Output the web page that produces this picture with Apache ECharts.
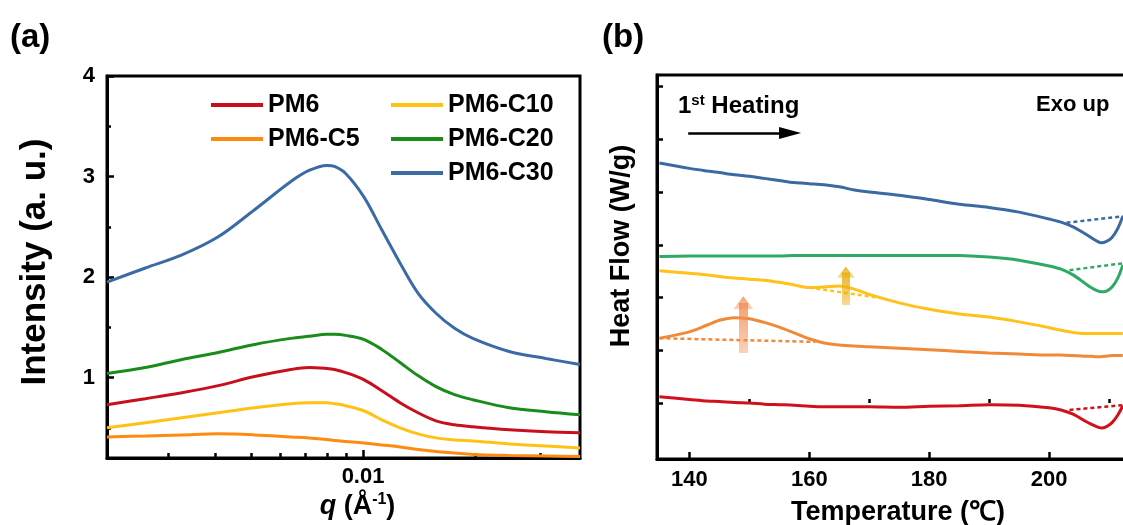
<!DOCTYPE html>
<html><head><meta charset="utf-8">
<script src="https://cdn.jsdelivr.net/npm/echarts@6/dist/echarts.min.js"></script>
<style>html,body{margin:0;padding:0;background:#fff}#c{width:1123px;height:525px}</style>
</head><body><div id="c"></div>
<script>
// ---------- Panel (a): SAXS intensity vs q ----------
const qValues = [0.00205, 0.0026, 0.00326, 0.00408, 0.00511, 0.0064, 0.00716, 0.008, 0.00838, 0.00898, 0.01004, 0.01123, 0.01257, 0.01405, 0.01571, 0.01762, 0.01972, 0.0247, 0.031, 0.0383];
const intPM6    = [0.73, 0.79, 0.85, 0.92, 1.01, 1.08, 1.10, 1.09, 1.08, 1.05, 0.98, 0.87, 0.75, 0.65, 0.57, 0.53, 0.51, 0.48, 0.46, 0.45];
const intPM6C5  = [0.41, 0.42, 0.43, 0.44, 0.43, 0.41, 0.40, 0.385, 0.375, 0.365, 0.35, 0.33, 0.31, 0.285, 0.265, 0.25, 0.235, 0.225, 0.22, 0.215];
const intPM6C10 = [0.50, 0.55, 0.60, 0.65, 0.70, 0.74, 0.75, 0.75, 0.74, 0.72, 0.67, 0.58, 0.50, 0.44, 0.40, 0.38, 0.37, 0.34, 0.32, 0.30];
const intPM6C20 = [1.04, 1.10, 1.18, 1.25, 1.33, 1.39, 1.41, 1.43, 1.43, 1.42, 1.38, 1.28, 1.15, 1.02, 0.91, 0.83, 0.78, 0.70, 0.66, 0.63];
const intPM6C30 = [1.95, 2.09, 2.22, 2.40, 2.67, 2.95, 3.06, 3.11, 3.10, 3.03, 2.80, 2.47, 2.14, 1.84, 1.64, 1.49, 1.39, 1.26, 1.19, 1.13];
const qTicks = [0.002, 0.003, 0.004, 0.005, 0.006, 0.007, 0.008, 0.009, 0.02, 0.03];
const qLabels = [0.01];
const intLabels = [1, 2, 3, 4];
const intMinorTicks = [0.5, 1.5, 2.5, 3.5];
const legendCol1 = ['PM6', 'PM6-C5'];
const legendCol2 = ['PM6-C10', 'PM6-C20', 'PM6-C30'];

// ---------- Panel (b): DSC heat flow vs temperature ----------
const temps = [135, 140, 143, 145, 147.5, 150, 152.5, 155, 157.5, 160, 162.5, 165, 167.5, 170, 175, 180, 185, 190, 195, 200, 202, 204, 206, 207, 208, 208.7, 209.5, 210.5, 211.5, 212.3];
const hfPM6    = [0.12, 0.07, 0.04, 0.03, 0.01, 0.00, -0.02, -0.03, -0.04, -0.06, -0.07, -0.07, -0.07, -0.07, -0.08, -0.06, -0.05, -0.03, -0.04, -0.09, -0.13, -0.21, -0.34, -0.40, -0.45, -0.47, -0.45, -0.37, -0.22, -0.05];
const hfPM6C5  = [1.23, 1.35, 1.48, 1.57, 1.62, 1.60, 1.53, 1.44, 1.33, 1.22, 1.14, 1.10, 1.08, 1.07, 1.04, 1.01, 0.98, 0.95, 0.93, 0.91, 0.91, 0.90, 0.89, 0.89, 0.88, 0.88, 0.89, 0.90, 0.90, 0.90];
const hfPM6C10 = [2.51, 2.46, 2.43, 2.40, 2.37, 2.35, 2.33, 2.29, 2.24, 2.19, 2.20, 2.22, 2.16, 2.06, 1.90, 1.78, 1.69, 1.63, 1.54, 1.43, 1.38, 1.34, 1.32, 1.32, 1.32, 1.32, 1.32, 1.32, 1.32, 1.32];
const hfPM6C20 = [2.78, 2.79, 2.79, 2.79, 2.79, 2.79, 2.79, 2.79, 2.80, 2.80, 2.80, 2.80, 2.80, 2.80, 2.80, 2.80, 2.80, 2.77, 2.71, 2.60, 2.54, 2.43, 2.27, 2.19, 2.13, 2.11, 2.12, 2.20, 2.38, 2.62];
const hfPM6C30 = [4.55, 4.45, 4.40, 4.37, 4.33, 4.30, 4.26, 4.22, 4.18, 4.16, 4.14, 4.10, 4.04, 4.00, 3.94, 3.86, 3.77, 3.71, 3.62, 3.49, 3.43, 3.34, 3.21, 3.14, 3.07, 3.04, 3.06, 3.14, 3.32, 3.54];
const baseC30 = [[202.9, 3.42], [212.3, 3.54]];
const baseC20 = [[203.4, 2.52], [212.3, 2.65]];
const baseC10 = [[160, 2.19], [172, 1.99]];
const baseC5  = [[135, 1.23], [161, 1.16]];
const basePM6 = [[203.4, -0.13], [212.3, -0.04]];
const arrowC5  = [[149, 0.95], [149, 1.90]];
const arrowC10 = [[166.1, 1.86], [166.1, 2.48]];
const heatingArrow = [[139.8, 5.12], [156.8, 5.12]];
const tempLabels = [140, 160, 180, 200];
const tempMinorTicks = [150, 170, 190, 210];
const hfTicks = [0, 1, 2, 3, 4, 5, 6];

const FONT = "'Liberation Sans', Arial, sans-serif";
const colA = {PM6: '#c8101c', C5: '#ff8a12', C10: '#ffc214', C20: '#1a8c1a', C30: '#3b6ba5'};
const colB = {PM6: '#d0101a', C5: '#f08a38', C10: '#ffc21a', C20: '#2faa66', C30: '#3a6aa2'};

const zip = (xs, ys) => xs.map((x, i) => [x, ys[i]]);

function lineA(name, ys, color) {
  return {name, type: 'line', xAxisIndex: 0, yAxisIndex: 0, data: zip(qValues, ys), smooth: 0.35,
    symbol: 'none', lineStyle: {width: 3, color}, itemStyle: {color}, z: 3};
}
function lineB(name, ys, color, extra) {
  return Object.assign({name, type: 'line', xAxisIndex: 2, yAxisIndex: 2, data: zip(temps, ys), smooth: 0.3,
    symbol: 'none', lineStyle: {width: 3, color}, itemStyle: {color}, z: 3}, extra || {});
}
function baseB(name, pts, color) {
  return {name, type: 'line', xAxisIndex: 2, yAxisIndex: 2, data: pts, symbol: 'none',
    lineStyle: {width: 2.5, color, type: [4, 3]}, z: 2};
}
function grad(r, g, b, a0, a1) {
  return new echarts.graphic.LinearGradient(0, 0, 0, 1, [
    {offset: 0, color: `rgba(${r},${g},${b},${a0})`}, {offset: 1, color: `rgba(${r},${g},${b},${a1})`}]);
}
function arrowLine(pts, color, width, size) {
  return {silent: true, symbol: ['none', 'triangle'], symbolSize: size, label: {show: false},
    animation: false,
    data: [[{coord: pts[0], lineStyle: {color, width, type: 'solid', opacity: 1}}, {coord: pts[1]}]]};
}

const axisLine = {show: true, onZero: false, lineStyle: {color: '#000', width: 3}};
const labelFont = {fontFamily: FONT, fontWeight: 'bold', fontSize: 22, color: '#000'};
const legendText = {fontFamily: FONT, fontWeight: 'bold', fontSize: 25, color: '#000', lineHeight: 30};

const option = {
  animation: false,
  backgroundColor: '#fff',
  grid: [
    {left: 107, top: 76, right: 543, bottom: 67, outerBoundsMode: 'none', containLabel: false,
      show: true, borderColor: '#000', borderWidth: 3, backgroundColor: 'transparent'},
    {left: 657, top: 75, width: 482, bottom: 66, outerBoundsMode: 'none', containLabel: false,
      show: true, borderColor: '#000', borderWidth: 3, backgroundColor: 'transparent'}
  ],
  legend: [
    {data: legendCol1, orient: 'vertical', left: 206, top: 85, icon: 'rect', itemWidth: 52, itemHeight: 4, itemGap: 4,
      textStyle: legendText},
    {data: legendCol2, orient: 'vertical', left: 386, top: 85, icon: 'rect', itemWidth: 52, itemHeight: 4, itemGap: 4,
      textStyle: legendText}
  ],
  xAxis: [
    {type: 'log', logBase: 10, gridIndex: 0, position: 'bottom', min: 0.00205, max: 0.0383, axisLine,
      splitLine: {show: false}, minorTick: {show: false},
      axisTick: {show: true, inside: true, length: 5, lineStyle: {width: 2.5, color: '#000'}, customValues: qTicks},
      axisLabel: {show: false},
      name: '{i|q} (Å{s|-1})', nameLocation: 'middle', nameGap: 34,
      nameTextStyle: {fontFamily: FONT, fontWeight: 'bold', fontSize: 27, color: '#000', padding: [0, 0, 0, 28],
        rich: {i: {fontFamily: FONT, fontWeight: 'bold', fontStyle: 'italic', fontSize: 27, color: '#000'},
               s: {fontFamily: FONT, fontWeight: 'bold', fontSize: 16, color: '#000', padding: [0, 0, 14, 0]}}}},
    {type: 'log', logBase: 10, gridIndex: 0, position: 'bottom', min: 0.00205, max: 0.0383, axisLine: {show: false},
      splitLine: {show: false}, minorTick: {show: false},
      axisTick: {show: true, inside: true, length: 8, lineStyle: {width: 2.5, color: '#000'}, customValues: qLabels},
      axisLabel: Object.assign({show: true, margin: 8, customValues: qLabels, formatter: () => '0.01'}, labelFont)},
    {type: 'value', gridIndex: 1, position: 'bottom', min: 134.6, max: 215, axisLine,
      splitLine: {show: false},
      axisTick: {show: true, inside: true, length: 7, lineStyle: {width: 2.5, color: '#000'}, customValues: tempLabels},
      axisLabel: Object.assign({show: true, margin: 10, customValues: tempLabels}, labelFont),
      name: 'Temperature (℃)', nameLocation: 'middle', nameGap: 40,
      nameTextStyle: {fontFamily: FONT, fontWeight: 'bold', fontSize: 27, color: '#000'}},
    {type: 'value', gridIndex: 1, position: 'bottom', min: 134.6, max: 215, axisLine: {show: false},
      splitLine: {show: false},
      axisTick: {show: true, inside: true, length: 4, lineStyle: {width: 2.5, color: '#000'}, customValues: tempMinorTicks},
      axisLabel: {show: false}}
  ],
  yAxis: [
    {type: 'value', gridIndex: 0, position: 'left', min: 0.2, max: 4, axisLine, splitLine: {show: false},
      axisTick: {show: true, inside: true, length: 7, lineStyle: {width: 2.5, color: '#000'}, customValues: intLabels},
      axisLabel: Object.assign({show: true, margin: 12, customValues: intLabels}, labelFont),
      name: 'Intensity (a. u.)', nameLocation: 'middle', nameGap: 54,
      nameTextStyle: {fontFamily: FONT, fontWeight: 'bold', fontSize: 35, color: '#000', padding: [0, 0, 0, 10]}},
    {type: 'value', gridIndex: 0, position: 'left', min: 0.2, max: 4, axisLine: {show: false}, splitLine: {show: false},
      axisTick: {show: true, inside: true, length: 4, lineStyle: {width: 2.5, color: '#000'}, customValues: intMinorTicks},
      axisLabel: {show: false}},
    {type: 'value', gridIndex: 1, position: 'left', min: -1.06, max: 6.22, axisLine, splitLine: {show: false},
      axisTick: {show: true, inside: true, length: 6, lineStyle: {width: 2.5, color: '#000'}, customValues: hfTicks},
      axisLabel: {show: false},
      name: 'Heat Flow (W/g)', nameLocation: 'middle', nameGap: 22,
      nameTextStyle: {fontFamily: FONT, fontWeight: 'bold', fontSize: 27, color: '#000', padding: [0, 0, 0, 42]}}
  ],
  series: [
    lineA('PM6', intPM6, colA.PM6),
    lineA('PM6-C5', intPM6C5, colA.C5),
    lineA('PM6-C10', intPM6C10, colA.C10),
    lineA('PM6-C20', intPM6C20, colA.C20),
    lineA('PM6-C30', intPM6C30, colA.C30),
    lineB('DSC PM6', hfPM6, colB.PM6),
    lineB('DSC PM6-C5', hfPM6C5, colB.C5, {markLine: arrowLine(arrowC5, grad(240, 140, 80, 0.85, 0.35), 9, [20, 13])}),
    lineB('DSC PM6-C10', hfPM6C10, colB.C10, {markLine: arrowLine(arrowC10, grad(235, 175, 20, 0.95, 0.4), 8, [18, 11])}),
    lineB('DSC PM6-C20', hfPM6C20, colB.C20),
    lineB('DSC PM6-C30', hfPM6C30, colB.C30, {markLine: arrowLine(heatingArrow, '#000', 2.5, [12, 22])}),
    baseB('base PM6', basePM6, colB.PM6),
    baseB('base C5', baseC5, colB.C5),
    baseB('base C10', baseC10, colB.C10),
    baseB('base C20', baseC20, colB.C20),
    baseB('base C30', baseC30, colB.C30)
  ],
  graphic: [
    {type: 'text', left: 10, top: 21, style: {text: '(a)', font: "bold 33px 'Liberation Sans', Arial, sans-serif", fill: '#000'}},
    {type: 'text', left: 602, top: 21, style: {text: '(b)', font: "bold 33px 'Liberation Sans', Arial, sans-serif", fill: '#000'}},
    {type: 'text', left: 678, top: 93, style: {text: '{n|1}{s|st}{n| Heating}', rich: {
        n: {fontFamily: FONT, fontWeight: 'bold', fontSize: 24, fill: '#000'},
        s: {fontFamily: FONT, fontWeight: 'bold', fontSize: 15, fill: '#000', padding: [0, 0, 11, 0]}}}},
    {type: 'text', left: 1036, top: 94, style: {text: 'Exo up', font: "bold 22px 'Liberation Sans', Arial, sans-serif", fill: '#000'}}
  ]
};
const chart = echarts.init(document.getElementById('c'), null, {renderer: 'canvas'});
chart.setOption(option);
</script></body></html>
